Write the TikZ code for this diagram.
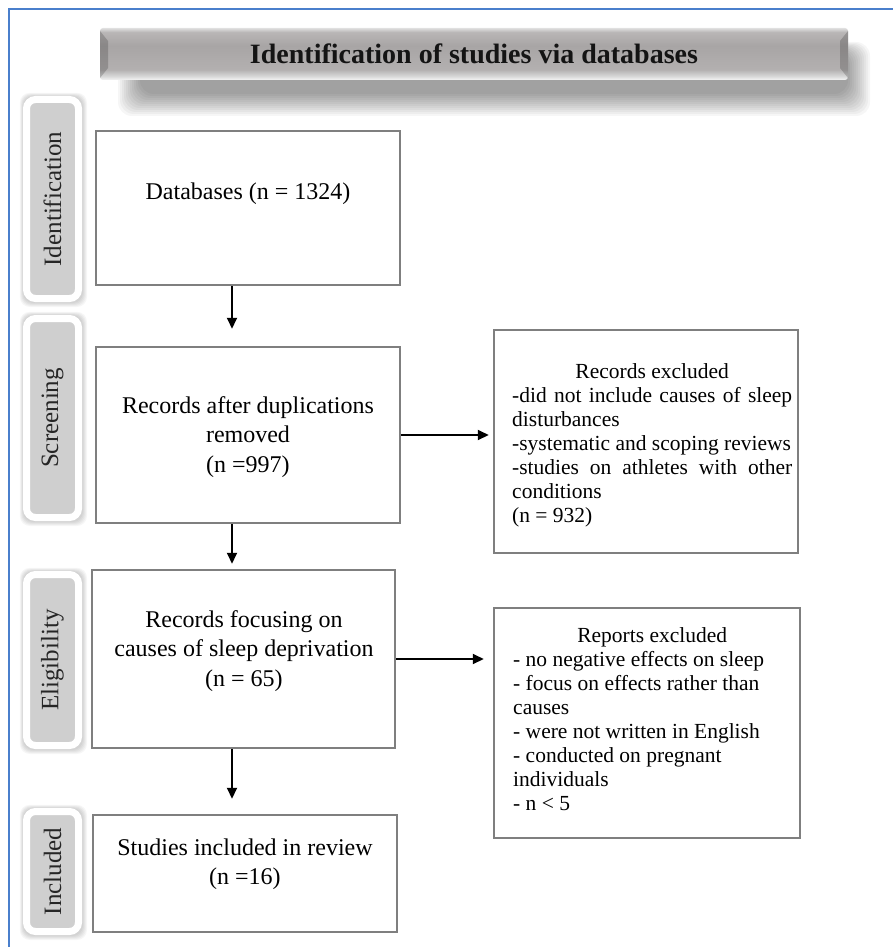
\documentclass[tikz,border=0pt]{standalone}
\usepackage{fontspec}
\setmainfont{Liberation Serif}
\usetikzlibrary{arrows.meta}
\definecolor{boxgray}{HTML}{7F7F7F}
\definecolor{labgray}{HTML}{CFCFCF}
\definecolor{frameblue}{HTML}{4A7FCC}
\definecolor{hdrE}{HTML}{F4F4F4}
\definecolor{hdrD}{HTML}{D6D6D6}
\definecolor{hdrC}{HTML}{B3B0B0}
\definecolor{hdrB}{HTML}{A8A5A5}
\definecolor{hdrA}{HTML}{B9B6B6}
\definecolor{hdrT}{HTML}{E0E0E0}
\pgfdeclareverticalshading{hdrshade}{100bp}{color(0bp)=(hdrE); color(25bp)=(hdrE); color(29bp)=(hdrD); color(35bp)=(hdrC); color(58bp)=(hdrB); color(71bp)=(hdrA); color(75bp)=(hdrT); color(100bp)=(hdrT)}
\newcommand\labhalo[4]{%
  \foreach \i in {0,...,4}{%
    \fill[black,opacity=0.035,rounded corners=10pt] (#1-\i*0.8,#2-\i*0.8) rectangle (#3+1+\i,#4+1+\i);}%
}
\tikzset{
  mainbox/.style={draw=boxgray, line width=2.5pt, fill=white, inner sep=0pt},
  maintext/.style={align=center, inner sep=0pt, font=\fontsize{24}{29.5}\selectfont},
  sidetext/.style={align=left, inner sep=0pt, anchor=west, font=\fontsize{21.5}{24}\selectfont},
  stagelab/.style={rotate=90, fill=labgray, draw=white, line width=7pt, rounded corners=9pt,
    inner sep=0pt, minimum height=52pt, text=black!85, font=\fontsize{25}{29}\selectfont},
  arr/.style={line width=2pt, -{Triangle[length=11pt,width=10pt]}},
  hdrbox/.style={shading=hdrshade, inner sep=0pt, minimum width=748pt, minimum height=52pt,
    rounded corners=3pt, font=\bfseries\fontsize{28}{32}\selectfont, text=black!92}
}
\begin{document}
\begin{tikzpicture}[x=1pt,y=-1pt]
\useasboundingbox (0,0) rectangle (893,947);
\fill[white] (0,0) rectangle (893,947);
% frame
\draw[frameblue, line width=2.5pt] (9,948) -- (9,9) -- (894,9);
% header shadow
\foreach \i in {0,...,11}{%
  \fill[black,opacity=0.036,rounded corners=14pt] (118+2*\i,42+\i) rectangle (870-2*\i,116-2*\i);}
\node[hdrbox] (hdr) at (474,54) {Identification of studies via databases};
\fill[black,opacity=0.18] (100,31) -- (108,41) -- (108,68) -- (100,78) -- cycle;
\fill[black,opacity=0.18] (848,31) -- (840,41) -- (840,68) -- (848,78) -- cycle;
% stage label halos
\labhalo{23}{96}{82}{302}
\labhalo{23}{315}{82}{521}
\labhalo{23}{571}{82}{749}
\labhalo{23}{808}{82}{935}
% stage labels
\node[stagelab, minimum width=199pt] (lid) at (52.5,199) {Identification};
\node[stagelab, minimum width=199pt] (lsc) at (52.5,418) {Screening};
\node[stagelab, minimum width=171pt] (lel) at (52.5,660) {Eligibility};
\node[stagelab, minimum width=120pt] (lin) at (52.5,871.5) {Included};
% main boxes
\node[mainbox, minimum width=304pt, minimum height=154pt] (b1) at (248,208) {};
\node[maintext] (t1) at (248,194) {Databases (n = 1324)};
\node[mainbox, minimum width=304pt, minimum height=176pt] (b2) at (248,435) {};
\node[maintext] (t2) at (248,437) {Records after duplications\\removed\\(n =997)};
\node[mainbox, minimum width=303pt, minimum height=178pt] (b3) at (243.5,659) {};
\node[maintext] (t3) at (244,651) {Records focusing on\\causes of sleep deprivation\\(n = 65)};
\node[mainbox, minimum width=304pt, minimum height=117pt] (b4) at (245,873.5) {};
\node[maintext] (t4) at (245,864) {Studies included in review\\(n =16)};
% side boxes
\node[mainbox, minimum width=304pt, minimum height=223pt] (b5) at (646,441.5) {};
\node[sidetext] (t5) at (512,445) {\makebox[280pt]{Records excluded}\\
  \makebox[280pt][s]{-did not include causes of sleep}\\
  disturbances\\
  -systematic and scoping reviews\\
  \makebox[280pt][s]{-studies on athletes with other}\\
  conditions\\
  (n = 932)};
\node[mainbox, minimum width=306pt, minimum height=230pt] (b6) at (647,723) {};
\node[sidetext] (t6) at (513,719) {\makebox[278pt]{Reports excluded}\\
  - no negative effects on sleep\\
  - focus on effects rather than\\
  causes\\
  - were not written in English\\
  - conducted on pregnant\\
  individuals\\
  - n < 5};
% arrows
\draw[arr, shorten >=17pt] ([xshift=-16pt]b1.south) -- ([xshift=-16pt]b1.south |- b2.north);
\draw[arr, shorten >=5pt] ([xshift=-16pt]b2.south) -- ([xshift=-16pt]b2.south |- b3.north);
\draw[arr, shorten >=15pt] ([xshift=-11.5pt]b3.south) -- ([xshift=-11.5pt]b3.south |- b4.north);
\draw[arr, shorten >=4pt] (b2.east) -- (b2.east -| b5.west);
\draw[arr, shorten >=9pt] (b3.east) -- (b3.east -| b6.west);
\end{tikzpicture}
\end{document}
